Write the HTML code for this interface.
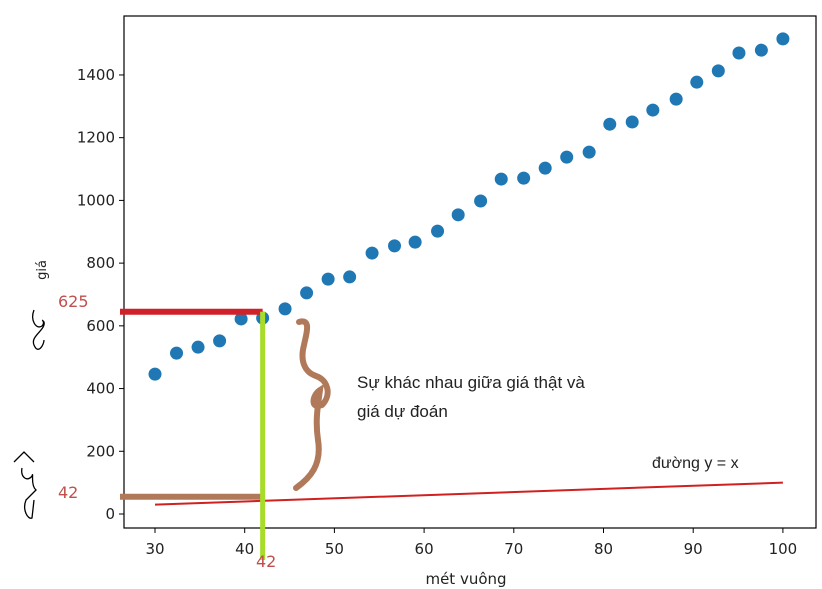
<!DOCTYPE html>
<html><head><meta charset="utf-8"><style>
body{margin:0;background:#fff;}
svg{display:block;font-family:"DejaVu Sans","Liberation Sans",sans-serif;}
</style></head><body>
<svg id="chart" width="822" height="589" viewBox="0 0 822 589"></svg>
<script>
const xs=[30,32.4,34.8,37.2,39.6,42,44.5,46.9,49.3,51.7,54.2,56.7,59.0,61.5,63.8,66.3,68.6,71.1,73.5,75.9,78.4,80.7,83.2,85.5,88.1,90.4,92.8,95.1,97.6,100];
const prices=[446,513,532,552,622,625,654,705,749,756,832,855,867,902,954,998,1068,1071,1103,1138,1154,1243,1250,1288,1323,1377,1413,1470,1479,1515];
const xTicks=[30,40,50,60,70,80,90,100];
const yTicks=[0,200,400,600,800,1000,1200,1400];
const lineX=[30,100];
const predX=42, predY=42, trueY=645;

const L=124,R=816,T=16,B=528;
const X=v=>155+(v-30)*8.97;
const Y=v=>514-v*0.3136;
const svg=document.getElementById('chart');
const NS='http://www.w3.org/2000/svg';
function mk(tag,attrs,parent){const e=document.createElementNS(NS,tag);for(const k in attrs)e.setAttribute(k,attrs[k]);(parent||svg).appendChild(e);return e;}

const frame=mk('rect',{x:L,y:T,width:R-L,height:B-T,fill:'none',stroke:'#000','stroke-width':1.2});



xTicks.forEach(t=>{
  const g=mk('g',{});
  
  
  mk('line',{x1:X(t),x2:X(t),y1:B,y2:B+5,stroke:'#000'},g);
  const tx=mk('text',{x:X(t),y:B+26,'text-anchor':'middle','font-size':15,fill:'#222'},g);tx.textContent=t;
});
yTicks.forEach(t=>{
  const g=mk('g',{});
  
  
  mk('line',{x1:L-5,x2:L,y1:Y(t),y2:Y(t),stroke:'#000'},g);
  const tx=mk('text',{x:L-9,y:Y(t)+5,'text-anchor':'end','font-size':15,fill:'#222'},g);tx.textContent=t;
});

xs.forEach((x,i)=>{
  const c=mk('circle',{cx:X(x),cy:Y(prices[i]),r:6.5,fill:'#1f77b4'});
  
  
});

const idl=mk('line',{x1:X(lineX[0]),y1:Y(lineX[0]),x2:X(lineX[1]),y2:Y(lineX[1]),stroke:'#d02020','stroke-width':2});



const rl=mk('line',{x1:L-4,y1:Y(trueY),x2:X(predX),y2:Y(trueY),stroke:'#d0202a','stroke-width':6});


const bl=mk('line',{x1:L-4,y1:Y(predY+13),x2:X(predX),y2:Y(predY+13),stroke:'#b07a5a','stroke-width':6});


const gl=mk('line',{x1:X(predX),y1:Y(trueY),x2:X(predX),y2:B+32,stroke:'#a8dc2a','stroke-width':5});



const br=mk('path',{d:'M299 322 C 312 318 306 335 304 345 C 300 360 304 372 316 376 C 328 380 332 395 322 405 C 310 410 312 395 320 390 C 318 405 315 420 318 440 C 322 465 310 478 296 488',fill:'none',stroke:'#b07a5a','stroke-width':6,'stroke-linecap':'round'});



function txt(s,a,name){const t=mk('text',a);t.textContent=s;return t;}
txt('625',{x:58,y:307,'font-size':16,fill:'#c0504d'},'label-625');
txt('42',{x:58,y:498,'font-size':16,fill:'#c0504d'},'label-42-y');
txt('42',{x:256,y:567,'font-size':16,fill:'#c0504d'},'label-42-x');
txt('Sự khác nhau giữa giá thật và',{x:357,y:388,'font-size':17,fill:'#222','font-family':'Liberation Sans, sans-serif'},'annotation-line-1');
txt('giá dự đoán',{x:357,y:417,'font-size':17,fill:'#222','font-family':'Liberation Sans, sans-serif'},'annotation-line-2');
txt('đường y = x',{x:652,y:468,'font-size':16,fill:'#222','font-family':'Liberation Sans, sans-serif'},'identity-line-label');
txt('mét vuông',{x:466,y:584,'text-anchor':'middle','font-size':15,fill:'#222'},'x-axis-title');
txt('giá',{x:0,y:0,'text-anchor':'middle','font-size':13,fill:'#222',transform:'translate(46,270) rotate(-90)'},'y-axis-title');

const h1=mk('path',{d:'M34 310 C 30 320 36 330 42 326 C 46 322 40 318 44 322 C 46 330 30 336 34 345 C 38 355 44 345 44 340',fill:'none',stroke:'#000','stroke-width':1.3});


const h2=mk('path',{d:'M14 462 L24 452 L34 462 M22 468 C 20 478 28 482 32 476 C 34 470 30 485 36 490 L26 500 C 22 510 28 520 32 518 L34 500',fill:'none',stroke:'#000','stroke-width':1.3});


</script>
</body></html>
